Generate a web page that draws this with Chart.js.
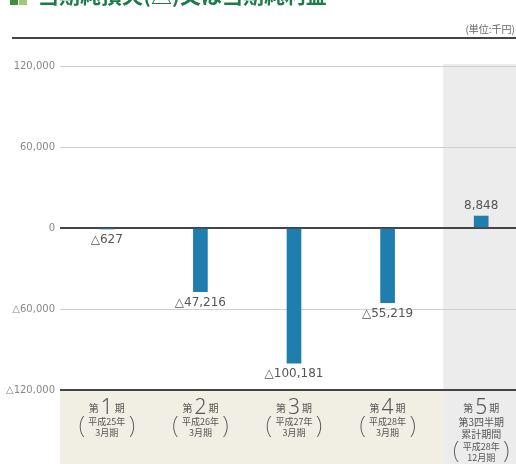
<!DOCTYPE html>
<html>
<head>
<meta charset="utf-8">
<script src="https://cdn.jsdelivr.net/npm/chart.js@4"></script>
<style>
  html, body { margin: 0; padding: 0; background: #fff; overflow: hidden; }
  #wrap { position: absolute; left: 0; top: 0; width: 528px; height: 464px; }
</style>
</head>
<body>
<div id="wrap"><canvas id="netChart"></canvas></div>
<script>
// 当期純損失(△)又は当期純利益 (単位:千円)
const periods = ['第1期', '第2期', '第3期', '第4期', '第5期'];
const periodNo = ['1', '2', '3', '4', '5'];
const periodSub = [
    ['平成25年', '3月期'],
    ['平成26年', '3月期'],
    ['平成27年', '3月期'],
    ['平成28年', '3月期'],
    ['平成28年', '12月期']
];
const netIncome = [-627, -47216, -100181, -55219, 8848];
const yTicks = [120000, 60000, 0, -60000, -120000];

const JP = '"Noto Sans CJK JP", "Noto Sans", sans-serif';

function fmt(v) {
    const s = Math.abs(v).toLocaleString('en-US');
    return v < 0 ? '△' + s : s;
}

const decor = {
    id: 'decor',
    beforeDraw(chart) {
        const ctx = chart.ctx;
        const x = chart.scales.x;
        const area = chart.chartArea;
        const greyLeft = x.getPixelForValue(4) - 38;
        ctx.save();
        // label band
        ctx.fillStyle = '#f1eee3';
        ctx.fillRect(area.left, area.bottom, greyLeft - area.left, chart.height - area.bottom);
        // last period (cumulative) column
        ctx.fillStyle = '#ececec';
        ctx.fillRect(greyLeft, area.top - 2, chart.width - greyLeft, chart.height - area.top + 2);

        // title (cut off at the top)
        ctx.fillStyle = '#3f8f3f';
        ctx.fillRect(10, -8, 8, 13);
        ctx.fillStyle = '#9cc97c';
        ctx.fillRect(19, -8, 8, 13);
        ctx.fillStyle = '#1d7a4a';
        ctx.font = '600 21px ' + JP;
        ctx.textBaseline = 'alphabetic';
        ctx.textAlign = 'left';
        ctx.fillText('当期純損失(△)又は当期純利益', 38, 3);

        ctx.fillStyle = '#666';
        ctx.font = '10px ' + JP;
        ctx.textAlign = 'right';
        ctx.textBaseline = 'middle';
        ctx.fillText('(単位:千円)', 515, 29);

        ctx.strokeStyle = '#444';
        ctx.lineWidth = 2;
        ctx.beginPath();
        ctx.moveTo(12, 38);
        ctx.lineTo(chart.width, 38);
        ctx.stroke();
        ctx.restore();
    },
    afterDatasetsDraw(chart) {
        const ctx = chart.ctx;
        const meta = chart.getDatasetMeta(0);
        ctx.save();
        ctx.fillStyle = '#555';
        ctx.font = '12px "DejaVu Sans", sans-serif';
        ctx.textAlign = 'center';
        ctx.textBaseline = 'middle';
        meta.data.forEach((bar, i) => {
            const v = netIncome[i];
            const y = v < 0 ? bar.y + 11 : bar.y - 10;
            ctx.fillText(fmt(v), bar.x, y);
        });

        // category labels
        const x = chart.scales.x;
        const top = chart.chartArea.bottom;
        ctx.fillStyle = '#555';
        periods.forEach((p, i) => {
            const cx = x.getPixelForValue(i);
            ctx.textBaseline = 'alphabetic';
            ctx.font = '10px ' + JP;
            ctx.textAlign = 'right';
            ctx.fillText('第', cx - 8, top + 22);
            ctx.textAlign = 'left';
            ctx.fillText('期', cx + 8, top + 22);
            ctx.textAlign = 'center';
            ctx.font = '300 21px "Noto Sans", sans-serif';
            ctx.fillText(periodNo[i], cx, top + 24);

            let y = top + 32;
            ctx.font = '9px ' + JP;
            ctx.textBaseline = 'middle';
            if (i === 4) {
                ctx.font = '10px ' + JP;
                ctx.fillText('第3四半期', cx, y);
                ctx.fillText('累計期間', cx, y + 12);
                y += 25;
                ctx.font = '9px ' + JP;
            }
            ctx.fillText(periodSub[i][0], cx, y);
            ctx.fillText(periodSub[i][1], cx, y + 11);
            ctx.font = '200 24px "Noto Sans", sans-serif';
            ctx.fillText('(', cx - 25, y + 4);
            ctx.fillText(')', cx + 25, y + 4);
        });
        ctx.restore();
    }
};

new Chart(document.getElementById('netChart'), {
    type: 'bar',
    data: {
        labels: periods,
        datasets: [{
            label: '当期純損失(△)又は当期純利益',
            data: netIncome,
            backgroundColor: '#1f7eae',
            barThickness: 14
        }]
    },
    options: {
        responsive: true,
        maintainAspectRatio: false,
        animation: false,
        layout: { padding: { top: 66, right: 0, bottom: 0, left: 0 } },
        plugins: {
            legend: { display: false },
            tooltip: { enabled: false }
        },
        scales: {
            x: {
                grid: { display: false },
                border: { display: false },
                ticks: { display: false },
                afterFit(scale) { scale.height = 74; }
            },
            y: {
                min: -120000,
                max: 120000,
                afterBuildTicks(scale) {
                    scale.ticks = yTicks.map(v => ({ value: v }));
                },
                afterFit(scale) { scale.width = 60; },
                border: { display: false },
                grid: {
                    drawTicks: false,
                    color: ctx => (ctx.tick && (ctx.tick.value === 0 || ctx.tick.value === -120000)) ? '#444' : '#cfcfcf',
                    lineWidth: ctx => (ctx.tick && (ctx.tick.value === 0 || ctx.tick.value === -120000)) ? 2 : 1
                },
                ticks: {
                    padding: 5,
                    color: '#888',
                    font: { size: 10, family: '"DejaVu Sans", sans-serif' },
                    callback: v => fmt(v)
                }
            }
        }
    },
    plugins: [decor]
});
</script>
</body>
</html>
